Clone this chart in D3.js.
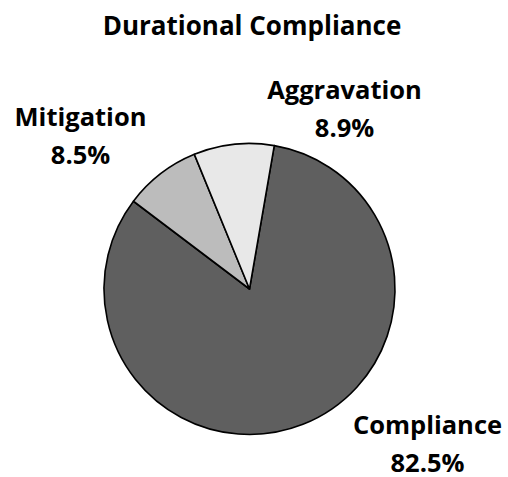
<!DOCTYPE html>
<html>
<head>
<meta charset="utf-8">
<script src="https://cdn.jsdelivr.net/npm/d3@7"></script>
<style>
  html, body { margin: 0; padding: 0; background: #fff; }
  svg text { font-family: "Open Sans", Lato, sans-serif; font-weight: bold; fill: #000; font-variant-ligatures: none; }
</style>
</head>
<body>
<svg id="chart" width="508" height="477"></svg>
<script>
const title = "Durational Compliance";
const categories = ["Compliance", "Mitigation", "Aggravation"];
const values = [82.5, 8.5, 8.9];
const valueLabels = ["82.5%", "8.5%", "8.9%"];
const colors = ["#5f5f5f", "#bcbcbc", "#e8e8e8"];

// label anchor offsets from the pie centre (layout only)
const labelOffsets = [[178, 145], [-169, -163], [95, -190]];

const W = 508, H = 477;
const cx = 249.5, cy = 289, R = 145.5;
const startDeg = 9.8;

const svg = d3.select("#chart");

svg.append("text")
  .attr("x", 252).attr("y", 35)
  .attr("text-anchor", "middle")
  .style("font-size", "26px")
  .text(title);

const data = categories.map((c, i) => ({ name: c, value: values[i], label: valueLabels[i], color: colors[i], off: labelOffsets[i] }));

const pie = d3.pie().sort(null).value(d => d.value)
  .startAngle(startDeg * Math.PI / 180)
  .endAngle(startDeg * Math.PI / 180 + 2 * Math.PI);
const arc = d3.arc().innerRadius(0).outerRadius(R);

const g = svg.append("g").attr("transform", `translate(${cx},${cy})`);
g.selectAll("path").data(pie(data)).join("path")
  .attr("d", arc)
  .attr("fill", d => d.data.color)
  .attr("stroke", "#000")
  .attr("stroke-width", 1.6)
  .attr("stroke-linejoin", "round");

const lab = g.selectAll("text.lab").data(data).join("text")
  .attr("class", "lab")
  .attr("text-anchor", "middle")
  .attr("transform", d => `translate(${d.off[0]},${d.off[1]})`)
  .style("font-size", "25.5px");
lab.append("tspan").attr("x", 0).attr("dy", 0).text(d => d.name);
lab.append("tspan").attr("x", 0).attr("dy", 37.5).text(d => d.label);
</script>
</body>
</html>
